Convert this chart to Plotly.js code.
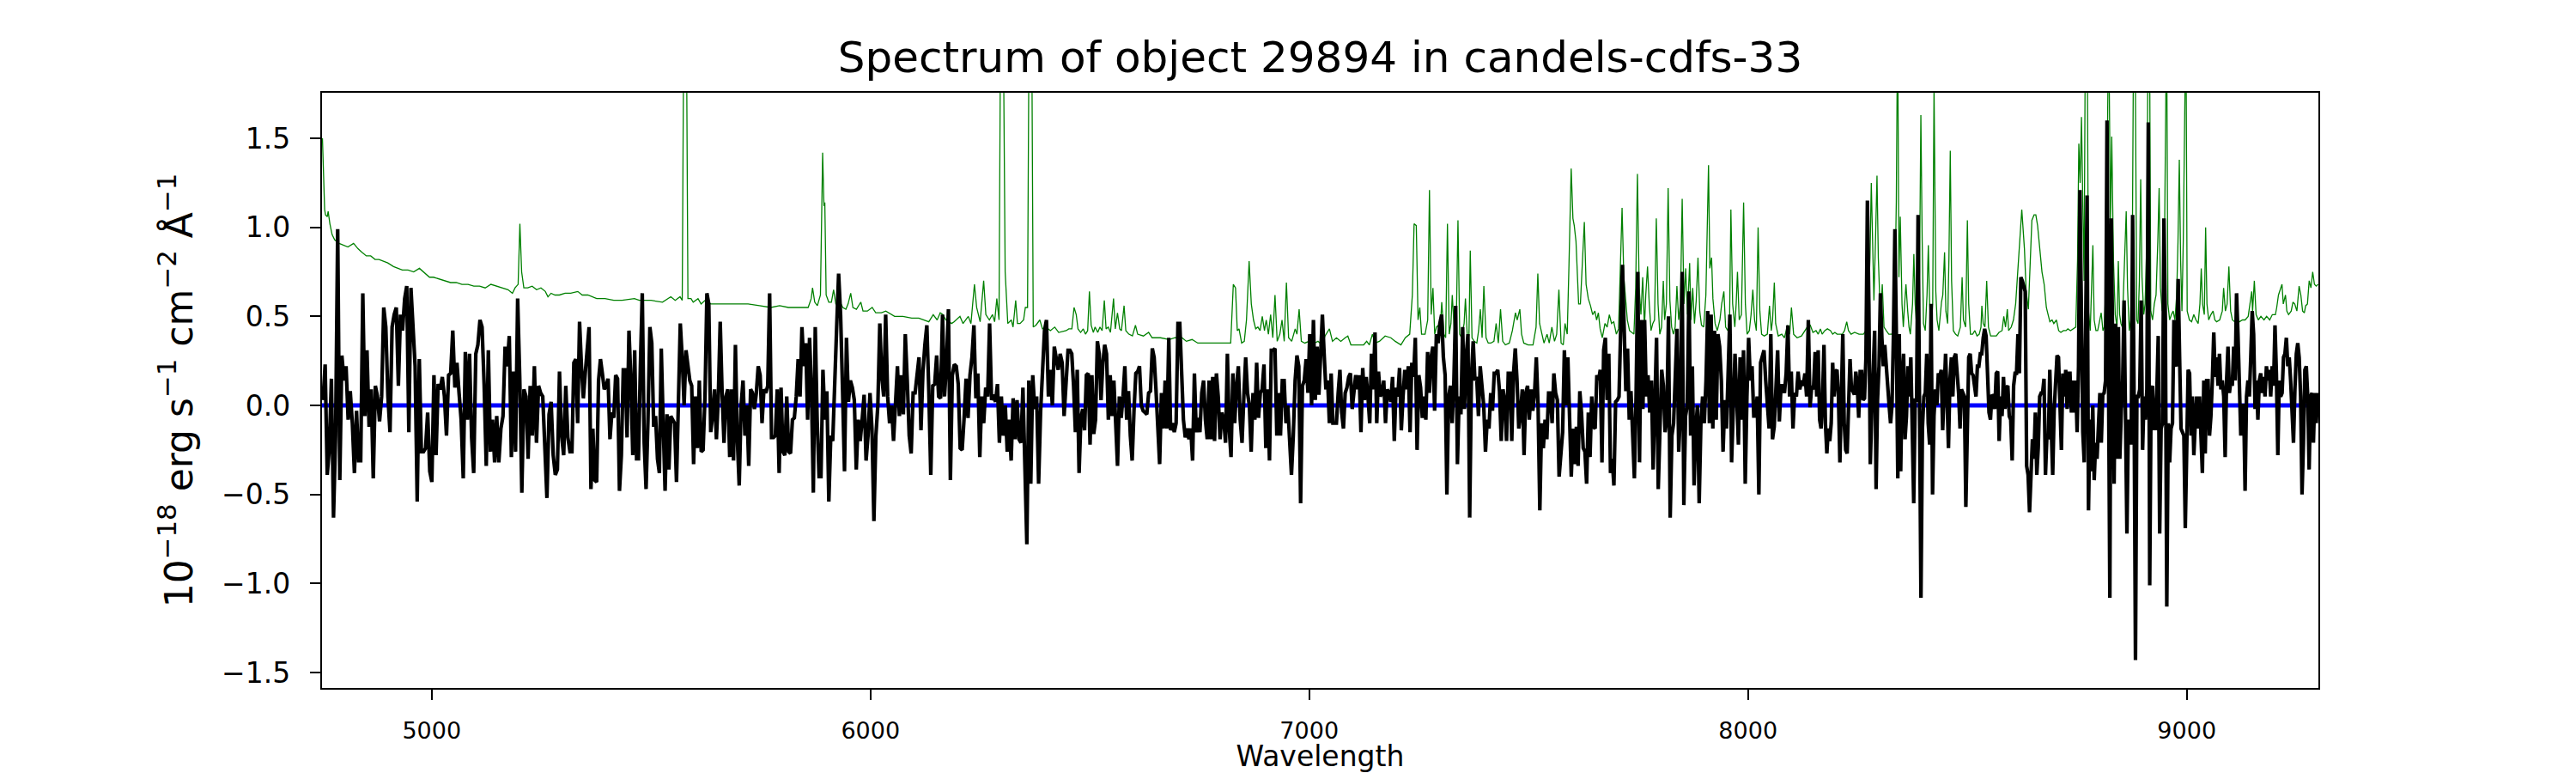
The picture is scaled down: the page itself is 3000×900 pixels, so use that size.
<!DOCTYPE html>
<html>
<head>
<meta charset="utf-8">
<script src="https://cdn.plot.ly/plotly-3.0.1.min.js"></script>
<style>
    html, body { margin: 0; padding: 0; background: #ffffff; }
    #spectrum { width: 3000px; height: 900px; }
</style>
</head>
<body>
<div id="spectrum"></div>
<script>
// Wavelength edges (Angstrom) of the stretches the flux values were read from
const segEdges = [4750, 5317.5, 5885, 6452.5, 7020, 7587.5, 8155, 8722.5, 9300];

// Object flux, 1e-18 erg/s/cm2/A, read left to right in each stretch
const flux1 = [0.03, 0.23, -0.39, -0.24, 0.15, -0.63, -0.17, 0.99, -0.42, 0.28, 0.14, 0.22, -0.08, 0.08, -0.10, -0.38, -0.03, -0.31, -0.31, 0.63, -0.06, 0.31, -0.12, 0.09, -0.41, 0.11, 0.05, -0.09, 0.05, 0.55, 0.44, 0.05, -0.15, 0.44, 0.51, 0.55, 0.11, 0.51, 0.42, 0.60, 0.67, -0.15, 0.66, 0.44, 0.22, -0.54, 0.26, -0.26, -0.26, -0.24, -0.04, -0.37, -0.43, 0.17, -0.28, 0.12, 0.09, 0.16, 0.05, -0.17, 0.17, 0.18, 0.42, 0.10, 0.24, 0.07, -0.08, -0.41, 0.30, -0.08, 0.29, -0.18, -0.38, 0.29, 0.34, 0.48, 0.44, 0.11, -0.34, 0.31, -0.26, -0.08, -0.32, -0.06, -0.32, -0.13, -0.06, 0.33, 0.22, 0.39, -0.29, 0.19, -0.26, 0.60, 0.16, -0.49, 0.09, 0.05, -0.30, 0.11, -0.17, 0.22, -0.21, 0.11, 0.07, 0.05, -0.22, -0.52, -0.05, 0.02, -0.28, -0.39, -0.36, 0.19, -0.17, -0.28, 0.11, -0.18, -0.26];
const flux2 = [-0.26, 0.24, 0.26, -0.10, 0.47, 0.22, 0.04, 0.18, 0.31, 0.44, -0.47, -0.13, -0.42, -0.43, 0.14, 0.26, 0.18, 0.09, 0.11, 0.15, -0.19, -0.04, -0.07, 0.17, 0.15, -0.48, -0.28, 0.20, 0.20, -0.18, 0.42, 0.14, -0.28, 0.31, -0.30, -0.30, 0.22, 0.63, -0.21, -0.47, -0.08, 0.44, 0.35, -0.12, -0.06, -0.30, -0.38, 0.32, -0.10, -0.48, -0.05, -0.36, -0.06, -0.08, -0.10, -0.43, 0.02, 0.46, 0.27, 0.00, 0.31, 0.24, 0.14, 0.11, -0.33, 0.05, -0.24, 0.14, -0.26, -0.25, 0.05, 0.63, 0.57, -0.15, -0.06, 0.09, -0.19, 0.05, 0.47, 0.07, -0.21, 0.05, 0.09, -0.29, 0.09, -0.31, 0.34, -0.19, -0.45, 0.00, 0.14, -0.17, 0.00, -0.34, 0.09, 0.07, -0.02, 0.07, 0.22, 0.17, -0.10, 0.09, 0.07, 0.11, 0.63, -0.18, -0.18, -0.17, 0.09, -0.38, 0.10, -0.26, -0.28, 0.05, -0.26, -0.27, -0.08, -0.07, 0.05, 0.26, 0.05, 0.44, 0.22, 0.35, -0.08, 0.38, 0.09, -0.49, 0.44, -0.08, -0.40];
const flux3 = [-0.40, 0.20, -0.08, 0.08, -0.54, -0.17, -0.20, 0.18, 0.44, 0.74, 0.51, 0.09, -0.37, 0.38, 0.02, 0.14, 0.10, 0.03, -0.36, -0.08, -0.20, -0.08, 0.06, -0.31, -0.17, 0.07, -0.13, -0.65, -0.17, 0.00, 0.46, 0.16, 0.05, 0.51, 0.05, -0.10, 0.00, -0.20, 0.00, 0.22, -0.06, 0.17, -0.05, 0.40, 0.14, -0.17, -0.27, 0.07, 0.07, 0.17, 0.27, -0.14, 0.19, 0.34, 0.45, 0.08, -0.39, 0.11, 0.12, 0.28, 0.05, 0.04, 0.51, 0.05, 0.23, 0.54, -0.42, 0.17, 0.23, 0.22, 0.12, -0.24, -0.25, -0.07, 0.15, -0.07, 0.17, 0.27, 0.45, 0.04, 0.18, -0.29, 0.05, -0.10, 0.10, 0.05, 0.46, 0.03, 0.06, 0.02, 0.12, -0.21, 0.05, -0.17, 0.00, -0.26, -0.08, -0.31, 0.04, -0.19, 0.03, -0.19, -0.21, 0.10, -0.37, -0.78, 0.14, -0.44, 0.17, -0.02, 0.05, -0.44, -0.04, 0.18, 0.42, 0.48, 0.05, 0.20, 0.00, 0.33, 0.27, 0.20, 0.29, 0.24, -0.06, 0.11, 0.31];
const flux4 = [0.31, 0.29, 0.11, -0.15, 0.20, -0.38, -0.07, -0.02, -0.14, 0.17, 0.18, -0.22, 0.17, -0.16, -0.08, 0.36, 0.29, 0.03, 0.24, 0.34, 0.29, -0.08, 0.17, -0.06, 0.14, -0.08, -0.34, 0.05, -0.07, 0.05, 0.22, -0.08, 0.08, -0.17, -0.31, -0.03, 0.18, 0.19, 0.22, 0.00, -0.03, -0.04, -0.05, 0.07, 0.08, 0.32, 0.27, 0.09, -0.08, -0.33, 0.07, -0.13, 0.14, -0.13, 0.38, -0.14, -0.10, -0.15, -0.10, 0.46, 0.46, 0.14, -0.08, -0.18, -0.13, -0.19, -0.13, -0.31, 0.18, -0.15, -0.07, -0.15, 0.07, 0.14, -0.08, -0.19, 0.14, -0.19, 0.16, -0.20, 0.18, 0.05, -0.19, -0.04, -0.08, -0.21, 0.29, -0.13, -0.29, 0.18, -0.10, 0.11, 0.22, -0.08, -0.21, 0.05, 0.27, 0.07, 0.00, -0.26, 0.07, -0.08, 0.24, -0.07, 0.07, 0.09, 0.23, -0.24, 0.09, -0.31, 0.31, 0.31, 0.32, -0.17, 0.07, -0.17, 0.14, 0.14, -0.10, 0.00, -0.17, -0.39, -0.17, 0.14, 0.28, 0.22, -0.55, 0.11, 0.14, 0.26, 0.07, 0.40, 0.00, 0.48, 0.03, 0.33];
const flux5 = [0.06, 0.31, 0.51, 0.29, 0.09, 0.14, -0.10, 0.18, -0.10, -0.10, -0.10, 0.07, 0.20, -0.04, -0.13, 0.07, 0.10, 0.16, 0.18, -0.02, 0.07, 0.17, 0.09, 0.17, -0.15, 0.21, 0.03, 0.16, 0.05, -0.10, 0.29, 0.09, 0.41, -0.10, 0.19, 0.05, 0.07, 0.14, -0.10, 0.09, 0.07, 0.02, 0.16, -0.20, 0.10, 0.05, 0.21, -0.14, 0.05, 0.20, 0.09, 0.22, -0.15, 0.24, 0.16, 0.38, -0.25, 0.17, 0.10, -0.07, 0.05, -0.08, 0.30, 0.07, 0.27, 0.33, -0.03, 0.40, 0.35, 0.46, 0.51, 0.27, 0.17, -0.50, 0.05, 0.11, -0.10, 0.14, 0.56, -0.33, 0.05, -0.05, 0.44, -0.02, 0.27, 0.40, -0.63, 0.16, 0.36, 0.14, 0.16, -0.06, 0.22, 0.09, 0.00, -0.26, -0.08, -0.13, 0.07, -0.03, 0.18, 0.18, 0.20, 0.08, -0.20, 0.09, 0.03, -0.20, 0.18, 0.18, -0.20, 0.18, 0.32, 0.14, -0.13, -0.04, 0.09, -0.28, 0.07, 0.11, -0.08, 0.09, -0.03, 0.07, 0.27, 0.00, -0.59, -0.10, -0.24, -0.08, -0.19, 0.07, 0.07, -0.10, 0.18, 0.07, 0.03, -0.40, -0.24, -0.15, 0.31, 0.00];
const flux6 = [0.27, -0.17, -0.40, -0.13, -0.33, -0.12, -0.34, 0.08, -0.04, -0.24, -0.26, -0.44, -0.04, -0.29, 0.05, -0.12, -0.13, 0.17, 0.14, 0.20, -0.32, 0.31, 0.38, 0.03, 0.29, -0.38, -0.30, -0.45, 0.02, 0.03, 0.05, 0.44, 0.79, 0.44, 0.08, 0.32, -0.08, 0.08, -0.17, -0.41, 0.05, 0.75, -0.32, 0.48, -0.02, 0.48, 0.05, 0.17, -0.04, 0.14, -0.36, 0.00, 0.38, -0.47, -0.09, 0.20, 0.11, -0.15, -0.08, 0.50, -0.63, -0.17, -0.10, 0.16, 0.43, -0.26, -0.04, 0.75, -0.56, -0.06, 0.00, 0.64, -0.17, 0.22, -0.45, -0.13, 0.00, -0.55, -0.10, 0.05, -0.10, 0.14, 0.53, -0.10, 0.51, -0.13, 0.42, -0.08, 0.40, 0.33, 0.14, -0.26, 0.03, -0.13, 0.27, 0.51, -0.32, -0.06, 0.29, 0.05, -0.22, 0.27, -0.08, 0.31, -0.44, 0.05, 0.38, 0.14, 0.22, -0.06, -0.06, 0.05, -0.50, 0.24, 0.27, 0.31, 0.14, 0.03, -0.13, 0.40, -0.19, -0.12, 0.11, 0.31, -0.09, 0.11, 0.11, 0.07, 0.18, 0.45, 0.05, 0.19, -0.13, 0.07, 0.05, 0.19, 0.09, 0.14, 0.11, 0.18, 0.05, 0.48, -0.01, 0.11, 0.09, 0.30];
const flux7 = [0.05, 0.31, -0.08, -0.13, 0.03, 0.34, -0.10, -0.27, -0.13, -0.20, -0.10, 0.24, 0.05, 0.19, 0.20, 0.05, -0.32, 0.07, 0.40, -0.10, -0.25, -0.27, 0.09, 0.26, 0.09, 0.08, 0.06, 0.19, 0.11, -0.07, 0.19, 0.19, 0.03, 0.04, 0.27, 1.15, 0.57, -0.33, -0.04, 0.14, 0.42, -0.47, 0.03, 0.22, 0.63, 0.38, 0.22, 0.34, 0.22, 0.05, 0.00, -0.10, 0.00, 0.40, 0.99, 0.40, -0.41, 0.40, -0.37, 0.14, 0.29, -0.19, -0.06, 0.22, 0.05, 0.27, -0.17, -0.55, 0.03, 0.03, 1.07, -0.17, -1.08, -0.13, 0.05, 0.07, 0.29, -0.10, -0.22, 0.57, -0.50, -0.06, 0.09, 0.00, 0.18, 0.16, 0.20, -0.14, 0.11, 0.29, 0.05, -0.24, 0.14, 0.27, 0.05, 0.27, 0.29, 0.20, 0.07, -0.13, 0.09, 0.07, 0.05, -0.57, 0.03, 0.27, 0.29, 0.18, 0.17, 0.11, 0.05, 0.22, 0.22, 0.29, 0.29, 0.38, 0.43, 0.39, 0.09, -0.04, -0.08, 0.06, 0.05, -0.02, 0.18, 0.19, -0.20, 0.05, -0.06, 0.16, -0.02, 0.10, 0.11, -0.06, -0.08, -0.31, 0.11, 0.18, 0.18, 0.40, 0.18, 0.72, 0.70, 0.66, 0.64, -0.34, -0.39, -0.60, -0.32, -0.19, -0.30, -0.04, -0.39, -0.24, 0.05, 0.07, 0.07, 0.15, -0.39, -0.17, -0.19, 0.20, -0.13, -0.39, -0.03, 0.18, 0.28, 0.27, -0.02, -0.25, 0.18, 0.05];
const flux8 = [0.20, -0.02, 0.18, 0.18, -0.04, 0.14, -0.04, 0.14, -0.15, 0.22, 1.21, 0.48, -0.15, -0.32, 0.46, 1.18, -0.59, -0.08, -0.37, 0.00, -0.42, -0.21, -0.30, -0.08, 0.07, -0.21, 0.06, 0.07, 0.14, 1.60, 0.27, -1.08, 1.05, 0.14, -0.44, 0.46, -0.30, 0.44, -0.30, -0.04, 0.14, 0.59, 0.00, -0.72, -0.08, -0.21, -0.21, 1.07, 0.07, -1.43, 0.05, 0.05, 0.09, 0.59, -0.25, 0.05, -0.08, 0.09, 1.59, -1.01, 0.09, 0.11, -0.13, -0.13, 0.07, 0.39, -0.72, -0.13, -0.10, 1.05, 0.48, -1.13, -0.10, -0.32, -0.13, -0.10, 0.48, 0.24, 0.22, 0.71, 0.27, -0.13, -0.15, -0.17, -0.69, -0.13, 0.20, 0.18, -0.17, 0.05, -0.28, -0.10, 0.05, -0.13, 0.05, -0.17, -0.38, 0.14, -0.27, 0.14, 0.14, -0.17, -0.06, 0.14, 0.41, 0.16, 0.27, 0.11, 0.29, 0.09, 0.14, 0.05, -0.29, 0.14, 0.33, 0.07, 0.14, 0.11, 0.33, 0.14, 0.63, 0.40, 0.00, -0.17, 0.00, 0.00, -0.48, 0.05, 0.14, 0.05, 0.27, 0.53, 0.40, -0.02, 0.14, -0.08, 0.14, 0.18, 0.07, 0.16, 0.05, 0.22, 0.14, 0.20, 0.05, 0.22, 0.11, 0.45, 0.18, -0.28, 0.14, 0.05, 0.07, 0.27, 0.29, 0.38, 0.22, 0.27, 0.14, -0.02, -0.21, 0.09, 0.29, 0.35, 0.27, 0.05, -0.50, -0.21, 0.20, 0.22, 0.05, -0.36, 0.05, 0.07, -0.21, 0.07, -0.10, 0.07];
const fluxSegments = [flux1, flux2, flux3, flux4, flux5, flux6, flux7, flux8];

// Noise / sky spectrum as [wavelength, value] pairs (spikes run past the top)
const noise1 = [[4751, 1.50], [4753, 1.35], [4756, 1.10], [4758, 1.07], [4762, 1.06], [4764, 1.09], [4768, 1.02], [4773, 0.96], [4779, 0.93], [4789, 0.91], [4799, 0.90], [4809, 0.89], [4822, 0.91], [4832, 0.88], [4841, 0.86], [4851, 0.84], [4861, 0.84], [4871, 0.82], [4880, 0.82], [4890, 0.81], [4900, 0.80], [4913, 0.78], [4923, 0.77], [4933, 0.76], [4946, 0.76], [4959, 0.75], [4972, 0.77], [4985, 0.74], [4995, 0.72], [5004, 0.72], [5017, 0.71], [5030, 0.70], [5043, 0.69], [5056, 0.69], [5069, 0.68], [5083, 0.68], [5096, 0.67], [5109, 0.67], [5122, 0.66], [5135, 0.68], [5148, 0.67], [5161, 0.66], [5174, 0.65], [5184, 0.63], [5190, 0.66], [5197, 0.68], [5201, 1.02], [5205, 0.75], [5210, 0.66], [5219, 0.66], [5229, 0.67], [5239, 0.65], [5249, 0.66], [5259, 0.64], [5265, 0.61], [5272, 0.63], [5281, 0.62], [5291, 0.62], [5304, 0.63], [5317, 0.63]];
const noise2 = [[5333, 0.64], [5343, 0.62], [5356, 0.62], [5376, 0.60], [5395, 0.60], [5415, 0.59], [5434, 0.59], [5462, 0.60], [5473, 0.59], [5500, 0.59], [5526, 0.58], [5545, 0.61], [5555, 0.59], [5566, 0.61], [5571, 0.59], [5575, 2.4], [5580, 2.4], [5584, 0.60], [5591, 0.60], [5596, 0.58], [5607, 0.60], [5614, 0.57], [5623, 0.59], [5636, 0.57], [5650, 0.57], [5669, 0.57], [5695, 0.57], [5721, 0.57], [5747, 0.56], [5773, 0.55], [5793, 0.56], [5813, 0.55], [5839, 0.55], [5858, 0.55], [5865, 0.60], [5868, 0.66], [5873, 0.58], [5879, 0.56], [5886, 0.62], [5891, 1.42], [5894, 1.12], [5896, 1.14], [5899, 0.62]];
const noise3 = [[5905, 0.58], [5911, 0.58], [5916, 0.65], [5921, 0.57], [5926, 0.55], [5931, 0.58], [5937, 0.55], [5944, 0.54], [5949, 0.57], [5955, 0.63], [5960, 0.55], [5968, 0.54], [5978, 0.58], [5983, 0.53], [5993, 0.53], [6004, 0.55], [6012, 0.52], [6025, 0.52], [6035, 0.53], [6055, 0.50], [6074, 0.50], [6094, 0.49], [6110, 0.49], [6133, 0.47], [6143, 0.51], [6152, 0.48], [6159, 0.52], [6165, 0.51], [6172, 0.48], [6185, 0.46], [6191, 0.47], [6204, 0.50], [6211, 0.46], [6223, 0.50], [6229, 0.46], [6237, 0.68], [6242, 0.55], [6250, 0.47], [6258, 0.70], [6263, 0.51], [6271, 0.48], [6278, 0.51], [6283, 0.47], [6288, 0.60], [6293, 0.48], [6297, 2.4], [6302, 2.4], [6307, 0.75], [6313, 0.46], [6321, 0.48], [6325, 0.44], [6331, 0.59], [6335, 0.46], [6341, 0.46], [6349, 0.48], [6353, 0.55], [6358, 0.55], [6362, 2.4], [6367, 2.4], [6371, 0.44], [6377, 0.45], [6386, 0.48], [6392, 0.43], [6400, 0.44], [6410, 0.42], [6420, 0.44], [6429, 0.41], [6446, 0.42]];
const noise4 = [[6452, 0.43], [6459, 0.43], [6464, 0.55], [6469, 0.51], [6473, 0.43], [6479, 0.41], [6485, 0.43], [6490, 0.40], [6495, 0.42], [6499, 0.64], [6503, 0.45], [6508, 0.41], [6512, 0.44], [6518, 0.41], [6523, 0.44], [6528, 0.42], [6533, 0.59], [6537, 0.43], [6542, 0.44], [6547, 0.41], [6554, 0.60], [6558, 0.43], [6563, 0.52], [6568, 0.43], [6572, 0.42], [6578, 0.56], [6582, 0.42], [6589, 0.40], [6597, 0.39], [6604, 0.45], [6609, 0.40], [6622, 0.39], [6634, 0.41], [6642, 0.38], [6661, 0.38], [6681, 0.37], [6694, 0.38], [6710, 0.38], [6720, 0.36], [6733, 0.37], [6746, 0.35], [6765, 0.35], [6785, 0.35], [6805, 0.35], [6821, 0.35], [6827, 0.68], [6832, 0.66], [6836, 0.42], [6840, 0.43], [6846, 0.35], [6852, 0.36], [6857, 0.48], [6863, 0.81], [6868, 0.57], [6873, 0.48], [6878, 0.43], [6883, 0.44], [6888, 0.42], [6893, 0.50], [6898, 0.42], [6902, 0.48], [6907, 0.40], [6912, 0.51], [6917, 0.38], [6922, 0.62], [6927, 0.36], [6933, 0.40], [6938, 0.48], [6943, 0.36], [6948, 0.69], [6953, 0.38], [6960, 0.36], [6968, 0.43], [6972, 0.40], [6977, 0.54], [6982, 0.36], [6990, 0.35], [6999, 0.36], [7005, 0.39], [7012, 0.35]];
const noise5 = [[7020, 0.36], [7030, 0.34], [7036, 0.39], [7046, 0.43], [7053, 0.36], [7062, 0.38], [7072, 0.36], [7082, 0.38], [7088, 0.39], [7095, 0.34], [7108, 0.34], [7124, 0.34], [7131, 0.36], [7137, 0.34], [7144, 0.40], [7150, 0.35], [7160, 0.36], [7173, 0.39], [7186, 0.38], [7196, 0.36], [7209, 0.34], [7219, 0.38], [7229, 0.40], [7235, 0.62], [7239, 1.02], [7244, 1.01], [7248, 0.48], [7252, 0.55], [7256, 0.40], [7264, 0.40], [7270, 0.48], [7274, 1.21], [7278, 0.51], [7282, 0.66], [7286, 0.40], [7290, 0.44], [7294, 0.45], [7298, 0.40], [7302, 0.58], [7307, 0.40], [7311, 0.38], [7315, 1.02], [7319, 0.40], [7323, 0.46], [7326, 0.62], [7331, 0.40], [7335, 0.44], [7339, 1.04], [7343, 0.40], [7347, 0.38], [7353, 0.46], [7356, 0.60], [7360, 0.40], [7364, 0.39], [7367, 0.87], [7371, 0.38], [7376, 0.36], [7382, 0.35], [7386, 0.42], [7390, 0.54], [7394, 0.38], [7398, 0.67], [7403, 0.38], [7408, 0.35], [7414, 0.35], [7421, 0.36], [7426, 0.46], [7431, 0.35], [7436, 0.54], [7441, 0.36], [7447, 0.34], [7456, 0.35], [7463, 0.42], [7470, 0.52], [7474, 0.48], [7480, 0.54], [7484, 0.40], [7489, 0.35], [7499, 0.34], [7510, 0.34], [7517, 0.44], [7521, 0.74], [7525, 0.46], [7530, 0.40], [7535, 0.35], [7542, 0.40], [7547, 0.35], [7553, 0.44], [7559, 0.36], [7564, 0.40], [7569, 0.65], [7574, 0.35], [7579, 0.34], [7583, 0.46], [7588, 0.40], [7592, 0.79]];
const noise6 = [[7597, 1.33], [7601, 1.05], [7604, 1.01], [7608, 0.92], [7614, 0.57], [7618, 0.57], [7623, 0.79], [7627, 1.03], [7631, 0.68], [7636, 0.60], [7641, 0.56], [7646, 0.51], [7651, 0.53], [7655, 0.48], [7659, 0.52], [7663, 0.43], [7668, 0.38], [7674, 0.46], [7679, 0.44], [7684, 0.51], [7689, 0.46], [7694, 0.47], [7700, 0.40], [7705, 0.43], [7709, 0.77], [7713, 1.11], [7717, 0.72], [7721, 0.60], [7725, 0.48], [7730, 0.42], [7735, 0.41], [7740, 0.40], [7744, 0.66], [7748, 1.30], [7752, 0.66], [7756, 0.51], [7760, 0.72], [7764, 0.44], [7767, 0.62], [7771, 0.78], [7775, 0.57], [7779, 0.42], [7783, 0.46], [7787, 0.48], [7791, 1.05], [7795, 0.57], [7799, 0.40], [7803, 0.44], [7807, 0.70], [7810, 0.48], [7814, 0.57], [7818, 1.22], [7822, 0.59], [7826, 0.44], [7830, 0.40], [7834, 0.44], [7838, 0.67], [7842, 0.48], [7846, 0.57], [7850, 1.16], [7854, 0.57], [7858, 0.77], [7862, 0.51], [7867, 0.80], [7870, 0.48], [7874, 0.66], [7878, 0.46], [7882, 0.59], [7886, 0.83], [7890, 0.53], [7894, 0.45], [7899, 0.44], [7904, 0.62], [7907, 0.92], [7910, 1.35], [7913, 0.77], [7917, 0.83], [7920, 0.60], [7925, 0.46], [7930, 0.42], [7936, 0.48], [7940, 0.57], [7945, 0.64], [7949, 0.44], [7954, 0.42], [7958, 0.48], [7961, 1.10], [7965, 0.57], [7970, 0.44], [7973, 0.57], [7976, 0.75], [7980, 0.48], [7985, 0.51], [7990, 1.14], [7994, 0.57], [7998, 0.40], [8003, 0.42], [8007, 0.51], [8011, 0.65], [8015, 0.48], [8019, 0.42], [8023, 1.00], [8027, 0.53], [8031, 0.40], [8037, 0.39], [8044, 0.40], [8049, 0.56], [8053, 0.42], [8056, 0.48], [8060, 0.69], [8063, 0.46], [8069, 0.39], [8077, 0.40], [8083, 0.38], [8090, 0.45], [8095, 0.40], [8099, 0.55], [8104, 0.40], [8112, 0.38], [8122, 0.39], [8130, 0.42], [8135, 0.44], [8142, 0.45], [8148, 0.41]];
const noise7 = [[8155, 0.42], [8160, 0.40], [8165, 0.43], [8169, 0.40], [8175, 0.42], [8181, 0.43], [8188, 0.42], [8193, 0.40], [8198, 0.41], [8203, 0.40], [8208, 0.40], [8215, 0.40], [8220, 0.42], [8225, 0.47], [8229, 0.42], [8235, 0.40], [8243, 0.41], [8253, 0.40], [8263, 0.40], [8269, 0.42], [8274, 0.55], [8278, 0.83], [8281, 1.25], [8284, 0.88], [8287, 0.59], [8291, 0.97], [8294, 1.29], [8297, 0.83], [8302, 0.48], [8306, 0.68], [8310, 0.44], [8315, 0.42], [8321, 0.40], [8328, 0.40], [8334, 0.51], [8338, 1.14], [8341, 2.2], [8344, 0.72], [8347, 1.06], [8351, 0.57], [8354, 0.44], [8357, 0.57], [8360, 0.68], [8364, 0.53], [8367, 0.44], [8370, 0.40], [8375, 0.57], [8378, 0.85], [8381, 0.57], [8385, 0.42], [8388, 0.44], [8391, 0.75], [8394, 1.63], [8397, 0.92], [8400, 0.46], [8404, 0.42], [8408, 0.62], [8411, 0.90], [8414, 0.57], [8417, 0.42], [8421, 0.57], [8424, 1.80], [8428, 0.64], [8431, 0.48], [8435, 0.42], [8441, 0.58], [8444, 0.62], [8448, 0.86], [8451, 0.53], [8455, 0.46], [8458, 0.83], [8461, 1.43], [8464, 0.70], [8468, 0.42], [8473, 0.40], [8478, 0.39], [8484, 0.44], [8488, 0.72], [8491, 0.48], [8496, 0.44], [8500, 1.04], [8503, 0.57], [8507, 0.40], [8512, 0.40], [8517, 0.42], [8522, 0.39], [8527, 0.40], [8531, 0.44], [8533, 0.56], [8536, 0.46], [8540, 0.44], [8544, 0.70], [8548, 0.44], [8553, 0.39], [8559, 0.39], [8566, 0.39], [8572, 0.41], [8579, 0.42], [8583, 0.50], [8587, 0.44], [8591, 0.54], [8594, 0.42], [8600, 0.44], [8605, 0.48], [8610, 0.57], [8615, 0.75], [8620, 0.97], [8624, 1.10], [8630, 0.88], [8634, 0.64], [8639, 0.54], [8643, 0.81], [8647, 1.04], [8652, 1.07], [8656, 1.07], [8660, 1.01], [8665, 0.88], [8670, 0.75], [8675, 0.68], [8680, 0.55], [8684, 0.51], [8688, 0.47], [8693, 0.48], [8697, 0.46], [8703, 0.48], [8708, 0.42], [8713, 0.41], [8719, 0.42]];
const noise8 = [[8725, 0.42], [8729, 0.43], [8735, 0.42], [8742, 0.43], [8747, 0.44], [8751, 0.81], [8754, 1.47], [8757, 1.25], [8760, 1.62], [8763, 1.14], [8766, 0.70], [8769, 2.2], [8773, 2.2], [8776, 0.53], [8780, 0.42], [8783, 0.66], [8786, 0.90], [8789, 0.48], [8793, 0.42], [8797, 0.42], [8801, 0.48], [8805, 0.52], [8809, 0.42], [8812, 0.44], [8816, 0.70], [8819, 2.2], [8822, 2.2], [8826, 1.03], [8829, 1.51], [8833, 0.81], [8837, 0.51], [8841, 0.44], [8844, 0.81], [8847, 0.51], [8850, 0.46], [8853, 0.44], [8857, 0.70], [8859, 0.81], [8862, 1.09], [8865, 0.66], [8869, 0.42], [8872, 0.48], [8876, 0.92], [8879, 2.2], [8882, 2.2], [8886, 0.48], [8889, 0.46], [8892, 0.70], [8895, 1.27], [8898, 0.72], [8902, 0.51], [8905, 0.57], [8909, 0.92], [8912, 2.2], [8915, 2.2], [8918, 0.53], [8922, 0.48], [8926, 0.57], [8930, 0.62], [8934, 0.92], [8937, 1.22], [8940, 0.66], [8944, 0.53], [8948, 0.57], [8951, 2.2], [8954, 2.2], [8957, 0.57], [8961, 0.48], [8965, 0.51], [8969, 0.53], [8973, 0.48], [8977, 0.62], [8980, 0.92], [8983, 1.38], [8986, 0.81], [8989, 0.53], [8992, 0.92], [8995, 2.2], [8998, 2.2], [9001, 0.53], [9006, 0.48], [9011, 0.47], [9016, 0.51], [9021, 0.48], [9026, 0.46], [9030, 0.57], [9033, 0.77], [9036, 0.57], [9040, 0.51], [9043, 1.00], [9046, 0.57], [9050, 0.48], [9055, 0.51], [9060, 0.53], [9064, 0.48], [9068, 0.47], [9075, 0.48], [9081, 0.53], [9084, 0.66], [9088, 0.53], [9092, 0.57], [9096, 0.78], [9100, 0.53], [9104, 0.48], [9108, 0.47], [9114, 0.46], [9120, 0.47], [9127, 0.48], [9133, 0.48], [9140, 0.50], [9144, 0.57], [9148, 0.64], [9150, 0.53], [9154, 0.70], [9158, 0.51], [9163, 0.48], [9169, 0.50], [9176, 0.48], [9182, 0.50], [9189, 0.48], [9195, 0.51], [9202, 0.51], [9205, 0.55], [9209, 0.62], [9213, 0.65], [9217, 0.68], [9220, 0.57], [9225, 0.62], [9228, 0.53], [9232, 0.51], [9238, 0.53], [9242, 0.58], [9246, 0.57], [9251, 0.53], [9256, 0.67], [9260, 0.62], [9264, 0.53], [9268, 0.52], [9271, 0.56], [9275, 0.57], [9279, 0.70], [9283, 0.66], [9287, 0.75], [9291, 0.68], [9295, 0.67], [9299, 0.68]];
const noiseSegments = [noise1, noise2, noise3, noise4, noise5, noise6, noise7, noise8];

// Model: flat zero across the whole range
const modelWave = [4750, 9300];
const modelFlux = [0, 0];

const xTicks = [5000, 6000, 7000, 8000, 9000];
const yTicks = [-1.5, -1.0, -0.5, 0.0, 0.5, 1.0, 1.5];

const FONT = 'DejaVu Sans, Liberation Sans, sans-serif';

function buildFlux() {
    const wave = [];
    const flux = [];
    fluxSegments.forEach((seg, s) => {
        const lo = segEdges[s];
        const step = (segEdges[s + 1] - lo) / seg.length;
        seg.forEach((v, i) => {
            wave.push(lo + (i + 0.5) * step);
            flux.push(v);
        });
    });
    return { wave, flux };
}

function buildNoise() {
    const all = [].concat(...noiseSegments);
    return { wave: all.map(p => p[0]), flux: all.map(p => p[1]) };
}

function drawSpectrum() {
    const obj = buildFlux();
    const noise = buildNoise();

    const traces = [
        {
            x: noise.wave, y: noise.flux,
            type: 'scatter', mode: 'lines',
            line: { color: '#008000', width: 1.3 },
            hoverinfo: 'skip'
        },
        {
            x: modelWave, y: modelFlux,
            type: 'scatter', mode: 'lines',
            line: { color: '#0000ff', width: 5 },
            hoverinfo: 'skip'
        },
        {
            x: obj.wave, y: obj.flux,
            type: 'scatter', mode: 'lines',
            line: { color: '#000000', width: 4.2 },
            hoverinfo: 'skip'
        }
    ];

    const axisCommon = {
        showline: true,
        linecolor: '#000000',
        linewidth: 2.2,
        mirror: true,
        ticks: 'outside',
        ticklen: 12,
        tickwidth: 2,
        tickcolor: '#000000',
        showgrid: false,
        zeroline: false
    };

    const layout = {
        width: 3000,
        height: 900,
        margin: { l: 375, r: 300, t: 108, b: 99 },
        paper_bgcolor: '#ffffff',
        plot_bgcolor: '#ffffff',
        showlegend: false,
        title: {
            text: 'Spectrum of object 29894 in candels-cdfs-33',
            font: { family: FONT, size: 50, color: '#000000' },
            x: 1537.5 / 3000,
            xanchor: 'center',
            y: 1 - 66 / 900,
            yanchor: 'middle'
        },
        xaxis: Object.assign({}, axisCommon, {
            range: [4750, 9300],
            tickvals: xTicks,
            ticktext: xTicks.map(String),
            tickfont: { family: FONT, size: 27, color: '#000000' },
            ticklabelstandoff: 12,
            title: {
                text: 'Wavelength',
                font: { family: FONT, size: 33, color: '#000000' },
                standoff: 14
            }
        }),
        yaxis: Object.assign({}, axisCommon, {
            range: [-1.587, 1.756],
            tickvals: yTicks,
            tickformat: '.1f',
            tickfont: { family: FONT, size: 33, color: '#000000' },
            ticklabelstandoff: 16,
            title: {
                text: '10<sup>−18</sup> erg s<sup>−1</sup> cm<sup>−2</sup> Å<sup>−1</sup>',
                font: { family: FONT, size: 44, color: '#000000' },
                standoff: 20
            }
        })
    };

    Plotly.newPlot('spectrum', traces, layout, { displayModeBar: false, staticPlot: true });
}

document.addEventListener('DOMContentLoaded', drawSpectrum);
</script>
</body>
</html>
